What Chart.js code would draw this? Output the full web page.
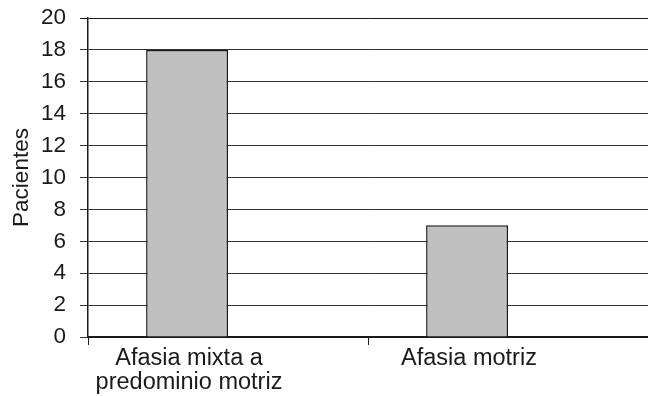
<!DOCTYPE html>
<html>
<head>
<meta charset="utf-8">
<script src="https://cdn.jsdelivr.net/npm/chart.js@4/dist/chart.umd.min.js"></script>
<style>
  html, body { margin: 0; padding: 0; background: #fff; }
  #wrap { width: 648px; height: 396px; position: relative; }
</style>
</head>
<body>
<div id="wrap"><canvas id="c"></canvas></div>
<script>
// Patients per aphasia type
const categories = [["Afasia mixta a", "predominio motriz"], "Afasia motriz"];
const pacientes = [18, 7];
const emptySeries = [null, null];
const yTicks = [0, 2, 4, 6, 8, 10, 12, 14, 16, 18, 20];

const family = "'Liberation Sans', Arial, sans-serif";

new Chart(document.getElementById('c'), {
  type: 'bar',
  data: {
    labels: categories,
    datasets: [
      {
        data: pacientes,
        backgroundColor: '#c0c0c0',
        borderColor: '#1a1a1a',
        borderWidth: 1.5,
        categoryPercentage: 0.585,
        barPercentage: 1
      },
      {
        data: emptySeries,
        backgroundColor: '#c0c0c0',
        categoryPercentage: 0.585,
        barPercentage: 1
      }
    ]
  },
  options: {
    responsive: true,
    maintainAspectRatio: false,
    animation: false,
    layout: { padding: { top: 18, right: 0, left: 0, bottom: 0 } },
    plugins: { legend: { display: false }, tooltip: { enabled: false } },
    scales: {
      x: {
        offset: true,
        grid: {
          offset: true,
          drawOnChartArea: false,
          drawTicks: true,
          tickLength: 8,
          color: '#1a1a1a',
          lineWidth: 1
        },
        border: { display: true, color: '#1a1a1a', width: 2 },
        ticks: {
          color: '#1a1a1a',
          font: { family: family, size: 23.5, lineHeight: 1.05 },
          padding: 1,
          labelOffset: -39,
          maxRotation: 0,
          autoSkip: false
        },
        afterFit: (scale) => {
          scale.height = 59;
          scale.paddingLeft = 0;
          scale.paddingRight = 0;
        }
      },
      y: {
        min: 0,
        max: 20,
        afterBuildTicks: (scale) => { scale.ticks = yTicks.map(v => ({ value: v })); },
        grid: {
          color: (ctx) => (ctx.tick && ctx.tick.value === 20 ? '#1a1a1a' : '#333333'),
          lineWidth: 1,
          drawTicks: true,
          tickLength: 8
        },
        border: { display: true, color: '#1a1a1a', width: 1.5 },
        ticks: {
          color: '#1a1a1a',
          font: { family: family, size: 22.5 },
          padding: 14
        },
        title: {
          display: true,
          text: 'Pacientes',
          color: '#1a1a1a',
          font: { family: family, size: 22.5 },
          padding: { top: 8, bottom: 0 }
        },
        afterFit: (scale) => {
          scale.width = 88;
          scale.paddingTop = 0;
          scale.paddingBottom = 0;
        }
      }
    }
  }
});
</script>
</body>
</html>
